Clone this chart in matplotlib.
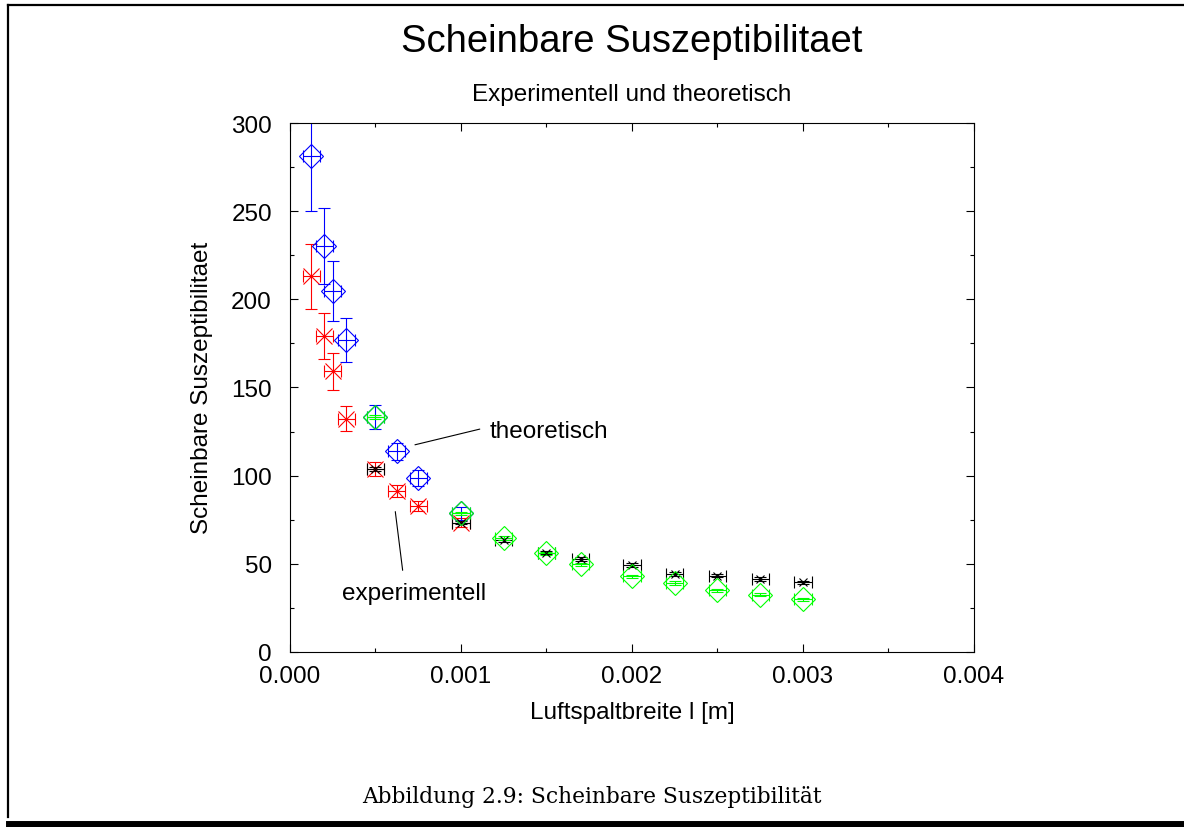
import matplotlib
matplotlib.use("Agg")
import matplotlib.pyplot as plt
from matplotlib.lines import Line2D
from matplotlib.ticker import MultipleLocator, FormatStrFormatter

plt.rcParams['font.family'] = ['Liberation Sans', 'DejaVu Sans']

# first measurement series (small gaps)
x_set1 = [0.000125, 0.0002, 0.00025, 0.00033, 0.0005, 0.000625, 0.00075, 0.001]
theo_set1 = [281.5, 230.2, 205.0, 176.9, 133.2, 113.7, 98.6, 78.6]
theo_err1 = [31.6, 21.5, 17.0, 12.3, 7.0, 5.0, 4.5, 3.5]
exp_set1 = [213.0, 179.3, 159.1, 132.3, 103.7, 91.4, 82.8, 73.3]
exp_err1 = [18.5, 13.1, 10.3, 7.0, 4.0, 3.5, 3.0, 2.5]

# second measurement series (larger gaps)
x_set2 = [0.0005, 0.001, 0.00125, 0.0015, 0.0017, 0.002, 0.00225, 0.0025, 0.00275, 0.003]
theo_set2 = [133.2, 78.6, 64.6, 55.9, 49.7, 42.9, 39.1, 34.9, 32.5, 29.8]
exp_set2 = [103.7, 73.3, 63.5, 56.3, 52.7, 49.3, 44.2, 43.3, 41.4, 39.5]
err_set2 = [1.0, 1.0, 1.0, 1.0, 1.0, 1.0, 1.0, 1.0, 1.0, 1.0]

x_err = 0.00005

fig = plt.figure(figsize=(11.84, 8.28), dpi=100)
ax = fig.add_axes([0.2449, 0.2114, 0.5777, 0.6388])

eb = dict(capsize=4, elinewidth=0.8, capthick=0.8, linestyle='none')
ax.errorbar(x_set1, exp_set1, yerr=exp_err1, xerr=x_err, color='red',
            marker='x', markersize=12, markeredgewidth=0.8, **eb)
ax.errorbar(x_set1, theo_set1, yerr=theo_err1, xerr=x_err, color='blue',
            marker='D', markersize=12.5, markerfacecolor='none', markeredgewidth=0.8, **eb)
ax.errorbar(x_set2, exp_set2, yerr=err_set2, xerr=x_err, color='black',
            marker='x', markersize=6, markeredgewidth=0.8, **eb)
ax.errorbar(x_set2, theo_set2, yerr=err_set2, xerr=x_err, color='#00ff00',
            marker='D', markersize=12.5, markerfacecolor='none', markeredgewidth=0.8, **eb)

ax.set_xlim(0, 0.004)
ax.set_ylim(0, 300)
ax.xaxis.set_major_locator(MultipleLocator(0.001))
ax.xaxis.set_minor_locator(MultipleLocator(0.0005))
ax.xaxis.set_major_formatter(FormatStrFormatter('%.3f'))
ax.yaxis.set_major_locator(MultipleLocator(50))
ax.yaxis.set_minor_locator(MultipleLocator(25))
ax.tick_params(which='both', direction='in', top=True, right=True, labelsize=17.5)
ax.tick_params(which='major', length=6, width=0.8)
ax.tick_params(which='minor', length=3, width=0.8)
ax.tick_params(axis='x', pad=9.5)
ax.tick_params(axis='y', pad=13)
for s in ax.spines.values():
    s.set_linewidth(0.8)

# labels on the curves
ax.annotate('', xy=(0.000731, 117.5), xytext=(0.00111, 126.4),
            arrowprops=dict(arrowstyle='-', lw=0.8, color='black', shrinkA=0, shrinkB=0))
ax.text(0.00117, 125.5, 'theoretisch', fontsize=17.5, va='center', ha='left')
ax.annotate('', xy=(0.000616, 79.6), xytext=(0.000659, 46.3),
            arrowprops=dict(arrowstyle='-', lw=0.8, color='black', shrinkA=0, shrinkB=0))
ax.text(0.000304, 33.6, 'experimentell', fontsize=17.5, va='center', ha='left')

fig.text(0.5338, 0.949, 'Scheinbare Suszeptibilitaet', fontsize=27.5, ha='center', va='center')
fig.text(0.5338, 0.885, 'Experimentell und theoretisch', fontsize=17.5, ha='center', va='center')
fig.text(0.5338, 0.139, 'Luftspaltbreite l [m]', fontsize=17.5, ha='center', va='center')
fig.text(0.171, 0.531, 'Scheinbare Suszeptibilitaet', fontsize=17.5, ha='center', va='center',
         rotation=90)
fig.text(0.5, 0.037, 'Abbildung 2.9: Scheinbare Suszeptibilität', fontsize=15.7,
         family='DejaVu Serif', ha='center', va='center')

# page frame around the figure
W, H = 1184.0, 828.0
fig.add_artist(Line2D([8.3 / W, 1.0], [1 - 6 / H, 1 - 6 / H], color='black', lw=1.6,
                      transform=fig.transFigure))
fig.add_artist(Line2D([8.3 / W, 8.3 / W], [1 - 6 / H, 1 - 818 / H], color='black', lw=1.6,
                      transform=fig.transFigure))
fig.add_artist(Line2D([9 / W, 1.0], [1 - 825 / H, 1 - 825 / H], color='black', lw=5,
                      transform=fig.transFigure))

fig.savefig('out.png', dpi=100)
